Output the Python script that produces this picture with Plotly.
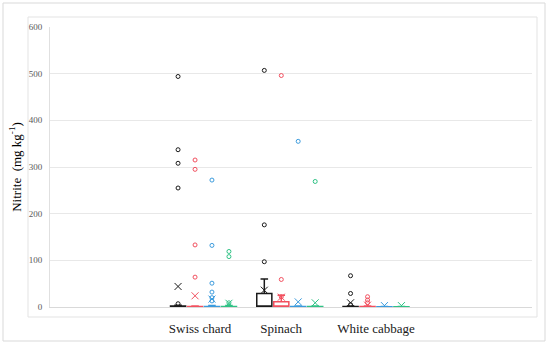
import plotly.graph_objects as go

# ---------------- data ----------------
categories = ["Swiss chard", "Spinach", "White cabbage"]
series_names = ["Series 1", "Series 2", "Series 3", "Series 4"]
series_colors = ["#1A1A1A", "#F2505F", "#3B9BDD", "#2FC285"]

q1_vals = [[0, 0, 0], [0, 0, 0], [0, 0, 0], [0, 0, 0]]
median_vals = [[0, 0, 0], [0, 0, 0], [0, 0, 0], [0, 0, 0]]
q3_vals = [[2, 29, 1], [1, 11, 1], [1, 1, 0.5], [1, 1, 0.5]]
lower_vals = [[0, 0, 0], [0, 0, 0], [0, 0, 0], [0, 0, 0]]
upper_vals = [[4, 60, 2], [2, 25, 2], [3, 2, 1], [3, 2, 1]]
mean_vals = [[44, 36, 9], [24, 21, 4], [17, 11, 3], [8, 9, 3]]
outlier_vals = [
    [[494, 337, 308, 255, 7], [507, 176, 97], [67, 29, 5]],
    [[315, 295, 133, 64], [496, 59, 22], [22, 15, 9]],
    [[272, 132, 51, 32, 20, 13], [355], []],
    [[119, 108, 9], [269], []],
]
y_ticks = [0, 100, 200, 300, 400, 500, 600]

# ---------------- layout helpers ----------------
W, H = 550, 347
L, R, T, B = 50, 532, 27, 307  # plot area in pixels
offsets = [-0.295, -0.098, 0.098, 0.295]
box_w = 0.175
cat_pos = list(range(len(categories)))
label_pos = [-0.04, 0.9, 2.0]


def px(xp):
    return (xp - L) / (R - L)


def py(yp):
    return (B - yp) / (B - T)


fig = go.Figure()

for s in range(4):
    xs = [c + offsets[s] for c in cat_pos]
    fig.add_trace(go.Box(
        x=xs, q1=q1_vals[s], median=median_vals[s], q3=q3_vals[s],
        lowerfence=lower_vals[s], upperfence=upper_vals[s],
        width=box_w, whiskerwidth=0.5, boxpoints=False,
        fillcolor="white", line=dict(color=series_colors[s], width=1.5),
        name=series_names[s], showlegend=False, hoverinfo="skip",
    ))
    ox, oy = [], []
    for c in cat_pos:
        for v in outlier_vals[s][c]:
            ox.append(c + offsets[s])
            oy.append(v)
    fig.add_trace(go.Scatter(
        x=ox, y=oy, mode="markers", showlegend=False,
        marker=dict(symbol="circle-open", size=4, color=series_colors[s],
                    line=dict(width=1, color=series_colors[s])),
    ))
    fig.add_trace(go.Scatter(
        x=xs, y=mean_vals[s], mode="markers", showlegend=False,
        marker=dict(symbol="x-thin", size=7,
                    line=dict(width=1, color=series_colors[s])),
    ))

frame_color = "#D9D9D9"
shapes = [
    dict(type="rect", xref="paper", yref="paper", x0=px(3), x1=px(545),
         y0=py(341), y1=py(3), line=dict(color=frame_color, width=1), layer="below"),
    dict(type="rect", xref="paper", yref="paper", x0=px(28), x1=px(537),
         y0=py(317), y1=py(17), line=dict(color="#E3E3E3", width=1), layer="below"),
]

x_range_left = -(203.5 - L) / 86.25
x_range_right = x_range_left + (R - L) / 86.25

fig.update_layout(
    width=W, height=H,
    margin=dict(l=L, r=W - R, t=T, b=H - B, autoexpand=False),
    paper_bgcolor="white", plot_bgcolor="white",
    boxmode="overlay",
    shapes=shapes,
    font=dict(family="Liberation Serif", color="#000000"),
    xaxis=dict(
        range=[x_range_left, x_range_right],
        tickvals=label_pos, ticktext=categories,
        tickfont=dict(size=13, color="#1a1a1a", family="Liberation Serif"),
        showgrid=False, zeroline=False, automargin=False,
        showline=True, linecolor="#D9D9D9", linewidth=1,
        ticks="", ticklabelstandoff=9,
    ),
    yaxis=dict(
        range=[0, 600], tickvals=y_ticks, automargin=False,
        tickfont=dict(size=9, color="#595959", family="Liberation Serif"),
        showgrid=True, gridcolor="#E8E8E8", gridwidth=1,
        zeroline=False, showline=True, linecolor="#E0E0E0", linewidth=1,
        ticks="", ticklabelstandoff=5,
        title=dict(text="Nitrite  (mg kg<sup>-1</sup>)", standoff=4,
                   font=dict(size=13, color="#000000", family="Liberation Serif")),
    ),
)

fig.write_html("out.html", config={"displayModeBar": False},
               post_script="document.body.style.margin='0';document.body.style.overflow='hidden';")
